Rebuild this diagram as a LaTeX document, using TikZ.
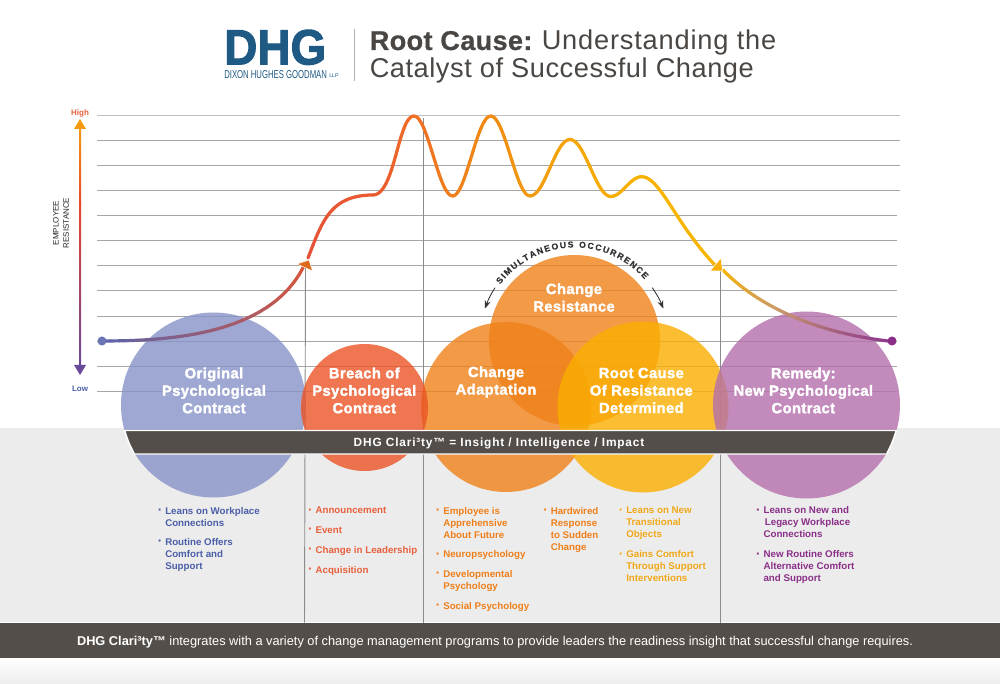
\documentclass[tikz,border=0pt]{standalone}
\usepackage{fontspec}
\usepackage{graphicx}
\usetikzlibrary{arrows.meta,decorations.text}
\setmainfont{Liberation Sans}
\newfontfamily\heavyf{Liberation Sans}[BoldFeatures={FakeBold=2.2,LetterSpace=3}]
\newfontfamily\bandf{Liberation Sans}[BoldFeatures={LetterSpace=7}]
\newfontfamily\arcf{Liberation Sans}[BoldFeatures={FakeBold=.3}]
\newfontfamily\titlef{Liberation Sans}[LetterSpace=2,BoldFeatures={LetterSpace=1,FakeBold=.6}]
\newfontfamily\titleff{Liberation Sans}[LetterSpace=3]
\newfontfamily\logof{Liberation Sans}[BoldFeatures={FakeBold=2}]
\definecolor{cblue}{HTML}{8793C7}
\definecolor{cred}{HTML}{EB5425}
\definecolor{corange}{HTML}{F08119}
\definecolor{cyellow}{HTML}{FBAE00}
\definecolor{cpurple}{HTML}{B46FAC}
\definecolor{dark}{HTML}{544E4A}
\definecolor{grayband}{HTML}{ECECEC}
\definecolor{gridc}{HTML}{A6A6A6}
\definecolor{vertc}{HTML}{8C8C8C}
\definecolor{logoc}{HTML}{1F5A85}
\definecolor{titlec}{HTML}{4A4643}
\definecolor{tblue}{HTML}{4B5EA8}
\definecolor{tred}{HTML}{E8603C}
\definecolor{torange}{HTML}{EF7F1A}
\definecolor{tyellow}{HTML}{F0A818}
\definecolor{tpurple}{HTML}{8A2F88}
\definecolor{ka}{HTML}{5A64AD}
\definecolor{kb}{HTML}{D9553A}
\definecolor{kc}{HTML}{E4533A}
\definecolor{kd}{HTML}{E95A30}
\definecolor{ke}{HTML}{EF6E24}
\definecolor{kf}{HTML}{EF7F1C}
\definecolor{kg}{HTML}{F08A12}
\definecolor{kh}{HTML}{F29A0E}
\definecolor{ki}{HTML}{F5A508}
\definecolor{kj}{HTML}{F6AD04}
\definecolor{kk}{HTML}{F7B200}
\definecolor{kl}{HTML}{F7B500}
\definecolor{km}{HTML}{C99A6A}
\definecolor{kn}{HTML}{8E3A8E}
\definecolor{axa}{HTML}{F39C12}
\definecolor{axb}{HTML}{E8452E}
\definecolor{axc}{HTML}{6A4A9A}
\definecolor{arrowa}{HTML}{DC6A1A}
\definecolor{dota}{HTML}{6B74B4}
\tikzset{
  bub/.style args={#1/#2}{circle,draw=none,fill=#1,fill opacity=.8,inner sep=0pt,minimum size=#2*1.5pt},
  lbl/.style={text=white,align=center,inner sep=0pt,font=\heavyf\bfseries\fontsize{11}{13.1}\selectfont},
  gridln/.style={draw=gridc,line width=1pt},
  vertln/.style={draw=vertc,line width=.7pt},
  itemtxt/.style={anchor=north west,inner sep=0pt,align=left,font=\bfseries\fontsize{7.3}{9}\selectfont},
  bulletm/.style={anchor=base,inner sep=0pt,font=\bfseries\fontsize{10}{9}\selectfont},
  smallarrow/.style={draw=black!80,line width=.65pt,-{Stealth[length=6pt,width=4.5pt]}},
  headt/.style={draw=white,line width=.4pt,line join=miter}
}
% gradient cubic: four points, then colours as A|B
\def\splitc#1|#2\relax{\def\colA{#1}\def\colB{#2}}
\def\gb(#1,#2)(#3,#4)(#5,#6)(#7,#8)#9{%
  \splitc#9\relax
  \foreach \i in {1,...,24}{%
    \pgfmathsetmacro\ta{(\i-1)/24}\pgfmathsetmacro\tb{\i/24}%
    \pgfmathsetmacro\ua{1-\ta}\pgfmathsetmacro\ub{1-\tb}%
    \pgfmathsetmacro\xa{\ua*\ua*\ua*#1+3*\ua*\ua*\ta*#3+3*\ua*\ta*\ta*#5+\ta*\ta*\ta*#7}%
    \pgfmathsetmacro\ya{\ua*\ua*\ua*#2+3*\ua*\ua*\ta*#4+3*\ua*\ta*\ta*#6+\ta*\ta*\ta*#8}%
    \pgfmathsetmacro\xb{\ub*\ub*\ub*#1+3*\ub*\ub*\tb*#3+3*\ub*\tb*\tb*#5+\tb*\tb*\tb*#7}%
    \pgfmathsetmacro\yb{\ub*\ub*\ub*#2+3*\ub*\ub*\tb*#4+3*\ub*\tb*\tb*#6+\tb*\tb*\tb*#8}%
    \pgfmathsetmacro\pc{100*(1-(\i-.5)/24)}%
    \draw[color={\colA!\pc!\colB},line width=2.4pt,line cap=round] (\xa,\ya) -- (\xb,\yb);%
  }%
}
\newcommand\itm[5]{%
  \node[bulletm,text=#4] (#1b) at ({#2-5},{#3+3.8}) {·};
  \node[itemtxt,text=#4] (#1) at (#2,{#3-3.7}) {#5};
}
\begin{document}
\begin{tikzpicture}[x=.75pt,y=-.75pt]
\useasboundingbox (0,0) rectangle (1000,684);
\fill[white] (0,0) rectangle (1000,684);
% backgrounds
\fill[grayband] (0,428) rectangle (1000,623);
\draw[white,line width=.8pt] (0,622.5) -- (1000,622.5);
\fill[dark] (0,623) rectangle (1000,658);
\shade[top color=white,bottom color=black!7] (0,658) rectangle (1000,684);
% header
\node[inner sep=0pt,text=logoc,anchor=north west] (logo) at (224,29.5) {\resizebox{76.5pt}{26pt}{\logof\bfseries DHG}};
\node[inner sep=0pt,text=logoc,anchor=west] (logosub) at (224,75) {\resizebox{77pt}{6pt}{DIXON HUGHES GOODMAN}};
\node[inner sep=0pt,text=logoc,anchor=west,font=\fontsize{4}{4}\selectfont] (logollp) at (329,75.5) {LLP};
\coordinate (septop) at (354.5,29); \coordinate (sepbot) at (354.5,81);
\draw[draw=black!30,line width=.8pt] (septop) -- (sepbot);
\node[inner sep=0pt,anchor=base west,text=titlec,font=\titlef\fontsize{20.4}{21}\selectfont] (title1) at (369.5,50) {\textbf{Root Cause:}};
\node[inner sep=0pt,anchor=base west,text=titlec,font=\titleff\fontsize{20.4}{21}\selectfont] (title1b) at (541.5,50) {Understanding the};
\node[inner sep=0pt,anchor=base west,text=titlec,font=\titlef\fontsize{20.4}{21}\selectfont] (title2) at (369.5,78) {Catalyst of Successful Change};
% grid
\foreach \yy/\xe in {140.5/900,165.5/900,190.5/900,215.5/897,240.5/897,265.5/897,290.5/897,316.5/897,341.5/897,366.5/897,391.5/897}
  \draw[gridln] (97,\yy) -- (\xe,\yy);
\draw[draw=black!25,line width=1.1pt] (97,115.5) -- (900,115.5);
% verticals
\coordinate (va) at (305.5,268); \coordinate (vab) at (304.5,622.5);
\coordinate (vb) at (423.5,118); \coordinate (vbb) at (423.5,622.5);
\coordinate (vc) at (720.5,270); \coordinate (vcb) at (720.5,622.5);
\draw[vertln] (va) -- (vab);
\draw[vertln] (vb) -- (vbb);
\draw[vertln] (vc) -- (vcb);
% axis
\shade[top color=axa,bottom color=axb] (79,126) rectangle (81.2,205);
\shade[top color=axb,bottom color=axc] (79,205) rectangle (81.2,366);
\fill[axa] (74,129) -- (86,129) -- (80,119) -- cycle;
\fill[axc] (74,365) -- (86,365) -- (80,375) -- cycle;
\node[inner sep=0pt,text=tred,font=\bfseries\fontsize{6}{7}\selectfont] (high) at (80,113) {High};
\node[inner sep=0pt,text=tblue,font=\bfseries\fontsize{6}{7}\selectfont] (low) at (80,389) {Low};
\node[inner sep=0pt,rotate=90,align=center,text=black!85,font=\fontsize{6}{7.6}\selectfont] (axisname) at (61,223) {EMPLOYEE\\RESISTANCE};
% circles
\node[bub=cblue/92.5] (corig) at (213.5,405) {};
\node[bub=corange/85] (cadapt) at (506,407) {};
\node[bub=corange/85.5] (cresist) at (574.5,340.5) {};
\node[bub=cyellow/85.5] (croot) at (643,407) {};
\node[bub=cpurple/93.5] (cremedy) at (806.5,405) {};
\node[bub=cred/63.5] (cbreach) at (364.5,407.5) {};
% band
\draw[draw=white,line width=1.1pt,fill=dark] (124.7,430.5) -- (896.3,430.5) .. controls (892.5,442) .. (886.7,454) -- (134.4,454) .. controls (128.3,442) .. cycle;
\node[inner sep=0pt,text=white,font=\bandf\bfseries\fontsize{8.9}{10}\selectfont] (bandtxt) at (499,443) {DHG Clari³ty™ = Insight / Intelligence / Impact};
% circle labels
\node[lbl] (lorig) at (214,390.5) {Original\\Psychological\\Contract};
\node[lbl] (lbreach) at (364.3,390.5) {Breach of\\Psychological\\Contract};
\node[lbl] (ladapt) at (496,382) {Change\\Adaptation};
\node[lbl] (lresist) at (574,297.5) {Change\\Resistance};
\node[lbl] (lroot) at (641.3,390.5) {Root Cause\\Of Resistance\\Determined};
\node[lbl] (lremedy) at (803.3,390.5) {Remedy:\\New Psychological\\Contract};
% arc text
\path[decorate,decoration={text along path,text align={fit to path},text={|\arcf\bfseries\fontsize{6.5}{7}\selectfont\color{black!80}|SIMULTANEOUS OCCURRENCE}}]
  (500.2,284.5) arc[start angle=217,end angle=319,radius=93];
\coordinate (al1) at (495,287.7); \coordinate (al2) at (485,308.5);
\coordinate (ar1) at (652.3,287.7); \coordinate (ar2) at (663.3,308.5);
\draw[smallarrow] (al1) to[bend right=6] (al2);
\draw[smallarrow] (ar1) to[bend left=6] (ar2);
% curve
\gb(102,341)(170,341)(270,335)(304,266){ka|kb}
\gb(308,258)(322,222)(330,195)(373,195){kc|kd}
\gb(373,195)(395,195)(398,116)(414,116){kd|ke}
\gb(414,116)(428,116)(438.6,196)(452.7,196){ke|kf}
\gb(452.7,196)(466,196)(477,116)(490.7,116){kf|kg}
\gb(490.7,116)(505,116)(516,196)(530,196){kg|kh}
\gb(530,196)(545,196)(555,139.5)(570,139.5){kh|ki}
\gb(570,139.5)(585,139.5)(596,196.5)(610.7,196.5){ki|kj}
\gb(610.7,196.5)(622,196.5)(630,176.7)(641.7,176.7){kj|kk}
\gb(641.7,176.7)(655,176.7)(668,203)(686.7,230){kk|kl}
\gb(686.7,230)(696,243)(706,256)(716,266){kl|kl}
\gb(723,270)(734,281.5)(752,296.5)(778.9,310){kl|km}
\gb(778.9,310)(805.75,323.5)(841.5,335.5)(888,341){km|kn}
% arrowheads and dots
\filldraw[headt,fill=arrowa] (297,264) -- (309,260) -- (312.5,271) -- cycle;
\filldraw[headt,fill=cyellow] (710,271) -- (721,258) -- (722.5,271) -- cycle;
\node[circle,fill=dota,inner sep=0pt,minimum size=6.8pt] (startdot) at (102,341) {};
\node[circle,fill=tpurple,inner sep=0pt,minimum size=6.8pt] (enddot) at (892,341) {};
% lists
\itm{a1}{165}{510.7}{tblue}{Leans on Workplace\\Connections}
\itm{a2}{165}{542}{tblue}{Routine Offers\\Comfort and\\Support}
\itm{b1}{315.3}{510.7}{tred}{Announcement}
\itm{b2}{315.3}{530}{tred}{Event}
\itm{b3}{315.3}{549.7}{tred}{Change in Leadership}
\itm{b4}{315.3}{569.7}{tred}{Acquisition}
\itm{c1}{443}{510.7}{torange}{Employee is\\Apprehensive\\About Future}
\itm{c2}{443}{554.3}{torange}{Neuropsychology}
\itm{c3}{443}{574}{torange}{Developmental\\Psychology}
\itm{c4}{443}{605.7}{torange}{Social Psychology}
\itm{d1}{550.5}{510.7}{torange}{Hardwired\\Response\\to Sudden\\Change}
\itm{e1}{626}{510.3}{tyellow}{Leans on New\\Transitional\\Objects}
\itm{e2}{626}{554.3}{tyellow}{Gains Comfort\\Through Support\\Interventions}
\itm{f1}{763.3}{510.3}{tpurple}{Leans on New and\\\hspace*{1pt}Legacy Workplace\\Connections}
\itm{f2}{763.3}{554.3}{tpurple}{New Routine Offers\\Alternative Comfort\\and Support}
% footer
\node[inner sep=0pt,text=white,font=\fontsize{9.6}{11}\selectfont] (foot) at (495,642) {\textbf{DHG Clari³ty™} integrates with a variety of change management programs to provide leaders the readiness insight that successful change requires.};
\end{tikzpicture}
\end{document}
